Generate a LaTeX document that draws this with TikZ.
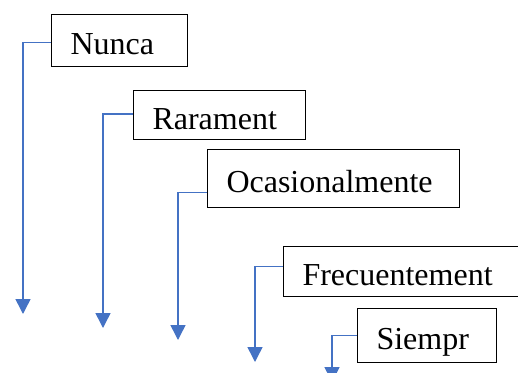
\documentclass[tikz,border=0pt]{standalone}
\usepackage{fontspec}
\setmainfont{Liberation Serif}
\usepackage{xcolor}
\usepackage{tikz}
\usetikzlibrary{arrows.meta}
\definecolor{linkblue}{HTML}{4472C4}

\tikzset{
    lvlbox/.style={draw, line width=1pt, anchor=north west, inner xsep=19pt, inner ysep=0pt, align=left, text height=29pt, text depth=1pt, font=\fontsize{32}{38}\selectfont},
    lvlarrow/.style={linkblue, line width=1.5pt, -{Triangle[width=15pt,length=15pt]}}
}

\begin{document}
\begin{tikzpicture}[x=1pt, y=-1pt]
        \clip (0,0) rectangle (518,372);

        \coordinate (b1) at (51, 14);
        \coordinate (b2) at (133, 90);
        \coordinate (b3) at (207, 149);
        \coordinate (b4) at (283, 246);
        \coordinate (b5) at (357, 308);

        \coordinate (t1) at (23, 314);
        \coordinate (t2) at (103, 328);
        \coordinate (t3) at (178, 340);
        \coordinate (t4) at (255, 362);
        \coordinate (t5) at (332, 382);

        \node[lvlbox, text width=98pt, minimum height=52pt] (nunca) at (b1) {Nunca};
        \node[lvlbox, text width=134pt, minimum height=49pt] (rara) at (b2) {Rarament};
        \node[lvlbox, text width=214pt, minimum height=58pt] (ocas) at (b3) {Ocasionalmente};
        \node[lvlbox, text width=214pt, minimum height=50pt] (frec) at (b4) {Frecuentement};
        \node[lvlbox, text width=101pt, minimum height=54pt] (siem) at (b5) {Siempr};

        \draw[lvlarrow] ([yshift=-2pt]nunca.west) -| (t1);
        \draw[lvlarrow] ([yshift=1pt]rara.west) -| (t2);
        \draw[lvlarrow] ([yshift=-14pt]ocas.west) -| (t3);
        \draw[lvlarrow] ([yshift=5pt]frec.west) -| (t4);
        \draw[lvlarrow] (siem.west) -| (t5);
    \end{tikzpicture}
\end{document}
